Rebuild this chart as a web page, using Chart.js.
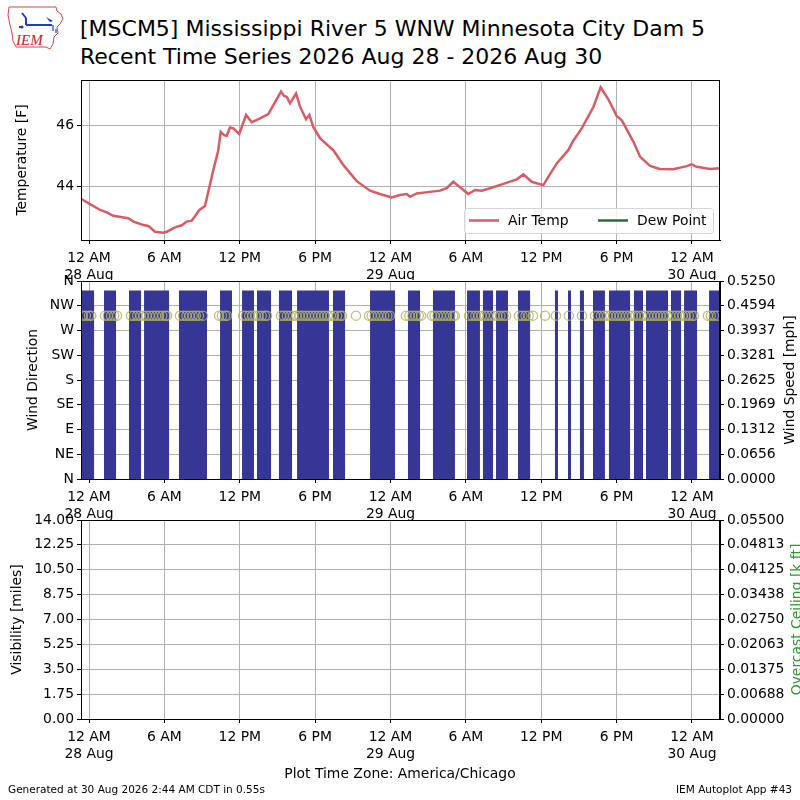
<!DOCTYPE html>
<html><head><meta charset="utf-8">
<script src="https://cdn.jsdelivr.net/npm/chart.js@4.4.1/dist/chart.umd.min.js"></script>
<style>
html,body{margin:0;padding:0;background:#fff;}
body{width:800px;height:800px;position:relative;overflow:hidden;font-family:"DejaVu Sans",sans-serif;color:#000;}
canvas{position:absolute;left:0;}
.t{position:absolute;white-space:nowrap;}
</style></head><body>
<svg style="position:absolute;left:6px;top:3px" width="62" height="48" viewBox="0 0 62 48">
  <path d="M3,4 L50,4 L51,8 L55,11 L57,16 L54,21 L51,24 L52,30 L48,34 L47,41 L44,46 L40,44 L10,44 L7,38 L6,30 L4,22 L2,12 Z" fill="none" stroke="#d44" stroke-width="1"/>
  <path d="M16,10 L20,15 M20,15 L20,22 M13,24 L17,24 M20,22 L46,22" stroke="#1a3fbf" stroke-width="2" fill="none"/>
  <path d="M40,14 L47,18 L44,19 Z" fill="#1a3fbf"/>
  <circle cx="16" cy="24" r="1.5" fill="#1a3fbf"/>
  <path d="M47,22 L47,28 M50,26 L50,30" stroke="#1a3fbf" stroke-width="1.2"/>
  <text x="10" y="42" font-family="Liberation Serif" font-style="italic" font-size="15" fill="#cc2222">IEM</text>
</svg>
<div class="t" style="left:80px;top:15px;font-size:22px;line-height:28px">[MSCM5] Mississippi River 5 WNW Minnesota City Dam 5<br>Recent Time Series 2026 Aug 28 - 2026 Aug 30</div>
<canvas id="c1" width="800" height="212" style="top:68px"></canvas>
<canvas id="c2" width="800" height="251" style="top:269px"></canvas>
<canvas id="c3" width="800" height="262" style="top:508px"></canvas>
<div class="t" style="left:0;width:800px;text-align:center;top:765px;font-size:13.9px">Plot Time Zone: America/Chicago</div>
<div class="t" style="left:8px;top:783px;font-size:10.5px">Generated at 30 Aug 2026 2:44 AM CDT in 0.55s</div>
<div class="t" style="right:8px;top:783px;font-size:10.5px">IEM Autoplot App #43</div>
<script>
// ---------- DATA (hours since 12 AM 28 Aug, America/Chicago) ----------
const timeTicks = [0, 6, 12, 18, 24, 30, 36, 42, 48];
const timeTickLabels = [['12 AM','28 Aug'],'6 AM','12 PM','6 PM',['12 AM','29 Aug'],'6 AM','12 PM','6 PM',['12 AM','30 Aug']];

const tempHours = [-0.58,0.08,0.88,1.41,1.93,3.13,3.53,4.32,4.72,5.25,
  5.91,6.19,6.84,7.38,7.78,8.18,8.78,9.23,9.89,10.29,
  10.48,10.75,10.96,11.22,11.49,11.96,12.50,12.95,13.61,14.27,
  15.28,15.52,15.74,16.0,16.48,16.8,17.27,17.54,17.85,18.39,
  19.05,19.45,20.24,21.31,22.37,23.16,24.10,24.76,25.29,25.55,
  26.09,27.14,27.94,28.47,29.0,30.19,30.73,31.26,31.92,32.98,
  34.05,34.57,35.24,36.16,37.23,38.15,38.55,39.22,40.14,40.73,
  41.34,42.01,42.40,43.33,43.86,44.66,45.45,46.51,47.58,47.98,
  48.37,49.43,50.23];
const airTempF = [43.59,43.43,43.24,43.16,43.05,42.97,42.86,42.75,42.72,42.53,
  42.50,42.53,42.67,42.74,42.86,42.89,43.24,43.37,44.54,45.19,
  45.79,45.68,45.66,45.93,45.90,45.72,46.34,46.10,46.23,46.37,
  47.10,46.96,46.93,46.72,47.04,46.61,46.20,46.34,45.95,45.58,
  45.33,45.19,44.71,44.18,43.87,43.76,43.65,43.73,43.76,43.67,
  43.78,43.83,43.87,43.95,44.16,43.76,43.89,43.87,43.95,44.09,
  44.24,44.40,44.16,44.05,44.76,45.19,45.50,45.90,46.59,47.24,
  46.85,46.30,46.17,45.47,44.98,44.68,44.58,44.57,44.67,44.73,
  44.65,44.58,44.60];
const dewPointF = [];
const tempTicks = [44, 46];

// wind speed: periods with reported speed (start hour, end hour, mph)
const windStart = [-0.56,1.19,3.18,4.38,7.16,10.43,12.18,13.37,15.12,16.56,
  19.42,22.37,25.39,27.38,30.09,31.36,32.40,34.15,37.09,38.13,
  39.08,40.12,41.39,43.38,44.34,46.33,47.37,49.36];
const windEnd = [0.40,2.15,4.14,6.37,9.39,11.38,13.13,14.49,16.16,19.10,
  20.38,24.36,26.35,29.13,31.12,32.16,33.35,35.11,37.33,38.37,
  39.40,41.07,43.07,44.10,46.09,47.13,48.40,50.23];
const windSpeedMph = [0.5,0.5,0.5,0.5,0.5,0.5,0.5,0.5,0.5,0.5,
  0.5,0.5,0.5,0.5,0.5,0.5,0.5,0.5,0.5,0.5,
  0.5,0.5,0.5,0.5,0.5,0.5,0.5,0.5];

// wind direction observations
const dirHours = [-0.50,-0.25,0.00,0.17,
  1.27,1.50,1.75,2.00,2.23,
  3.34,3.58,3.83,4.08,4.33,4.58,4.83,5.08,5.33,5.58,5.83,6.08,6.21,
  7.24,7.50,7.75,8.00,8.25,8.50,8.75,9.07,
  10.35,10.58,10.83,10.99,
  12.26,12.50,12.75,13.00,13.25,13.50,13.75,14.00,14.17,
  15.28,15.50,15.75,16.00,16.25,16.50,16.75,17.00,17.25,17.50,17.75,18.00,18.25,18.50,18.75,19.00,19.25,19.50,19.75,20.00,20.14,
  21.25,
  22.29,22.50,22.75,23.00,23.25,23.50,23.75,23.96,
  25.23,25.50,25.75,26.00,26.25,26.43,
  27.30,27.50,27.75,28.00,28.25,28.50,28.75,29.00,29.13,
  30.25,30.50,30.75,31.00,31.25,31.50,31.75,32.00,32.25,32.50,32.75,33.00,33.20,
  34.23,34.50,34.75,35.00,35.34,
  36.30,37.17,38.20,39.24,
  40.28,40.50,40.75,41.00,41.25,41.50,41.75,42.00,42.25,42.50,42.75,43.00,43.25,43.50,43.75,44.00,44.25,44.50,44.75,45.00,45.25,45.50,45.75,46.00,46.25,46.50,46.75,47.00,47.25,47.50,47.75,48.00,48.16,
  49.27,49.50,49.75,50.00];
const dirDeg = [297,297,297,297,297,297,297,297,297,297,
  297,297,297,297,297,297,297,297,297,297,
  297,297,297,297,297,297,297,297,297,297,
  297,297,297,297,297,297,297,297,297,297,
  297,297,297,297,297,297,297,297,297,297,
  297,297,297,297,297,297,297,297,297,297,
  297,297,297,297,297,297,297,297,297,297,
  297,297,297,297,297,297,297,297,297,297,
  297,297,297,297,297,297,297,297,297,297,
  297,297,297,297,297,297,297,297,297,297,
  297,297,297,297,297,297,297,297,297,297,
  297,297,297,297,297,297,297,297,297,297,
  297,297,297,297,297,297,297,297,297,297,
  297,297,297,297,297,297,297,297,297,297,
  297,297,297,297,297,297,297];
const dirTicks = [0,45,90,135,180,225,270,315,360];
const dirTickLabels = ['N','NE','E','SE','S','SW','W','NW','N'];
const speedTicks = [0,0.065625,0.13125,0.196875,0.2625,0.328125,0.39375,0.459375,0.525];
const speedTickLabels = ['0.0000','0.0656','0.1312','0.1969','0.2625','0.3281','0.3937','0.4594','0.5250'];

const visibilityMiles = [];
const ceilingKft = [];
const visTicks = [0,1.75,3.5,5.25,7,8.75,10.5,12.25,14];
const visTickLabels = ['0.00','1.75','3.50','5.25','7.00','8.75','10.50','12.25','14.00'];
const ceilTicks = [0,0.006875,0.01375,0.020625,0.0275,0.034375,0.04125,0.048125,0.055];
const ceilTickLabels = ['0.00000','0.00688','0.01375','0.02063','0.02750','0.03438','0.04125','0.04813','0.05500'];

// ---------- STYLE / LAYOUT ----------
const X_MIN = -0.64, X_MAX = 50.23;
const FONT = 'DejaVu Sans';
const FS = 13.9;
const GRID = '#b0b0b0';
Chart.defaults.font.family = FONT;
Chart.defaults.font.size = FS;
Chart.defaults.color = '#000';
Chart.defaults.animation = false;

function xScale(h) {
  return {
    type: 'linear', position: 'bottom', min: X_MIN, max: X_MAX,
    afterBuildTicks: ax => { ax.ticks = timeTicks.map(v => ({value: v})); },
    afterFit: ax => { ax.height = h; },
    ticks: {autoSkip: false, maxRotation: 0, padding: 6, color: '#000',
      font: {family: FONT, size: FS, lineHeight: 1.2},
      callback: (v, i) => timeTickLabels[i]},
    grid: {color: GRID, lineWidth: 1, tickLength: 4, tickColor: '#000', drawTicks: true},
    border: {display: true, color: '#000'}
  };
}
function yScale(pos, min, max, tv, tl, grid, w) {
  return {
    type: 'linear', position: pos, min: min, max: max,
    afterBuildTicks: ax => { ax.ticks = tv.map(v => ({value: v})); },
    afterFit: ax => { ax.width = w; },
    ticks: {autoSkip: false, padding: 3, color: '#000', font: {family: FONT, size: FS},
      callback: (v, i) => tl[i]},
    grid: {display: true, drawOnChartArea: grid, color: GRID, lineWidth: 1, tickLength: 4, tickColor: '#000'},
    border: {display: true, color: '#000'}
  };
}
const frame = {id: 'frame', afterDraw(chart) {
  const a = chart.chartArea, c = chart.ctx;
  c.save(); c.strokeStyle = '#000'; c.lineWidth = 1;
  c.strokeRect(Math.round(a.left) + 0.5, Math.round(a.top) + 0.5, Math.round(a.right - a.left) - 1, Math.round(a.bottom - a.top));
  c.restore();
}};
function titles(items) {
  return {id: 'titles', afterDraw(chart) {
    const a = chart.chartArea, c = chart.ctx;
    items.forEach(it => {
      c.save();
      c.translate(it.x, (a.top + a.bottom) / 2 + (it.dy || 0));
      c.rotate(-Math.PI / 2);
      c.font = FS + 'px "' + FONT + '"';
      c.fillStyle = it.color || '#000';
      c.textAlign = 'center'; c.textBaseline = 'middle';
      c.fillText(it.text, 0, 0);
      c.restore();
    });
  }};
}
const tempLegend = {id: 'tempLegend', afterDraw(chart) {
  const a = chart.chartArea, c = chart.ctx;
  const ds = chart.data.datasets;
  const w = 249, h = 25, x = a.right - 7 - w, y = a.bottom - 7 - h;
  c.save();
  c.fillStyle = 'rgba(255,255,255,0.8)';
  c.strokeStyle = '#d6d6d6'; c.lineWidth = 1;
  c.beginPath(); c.roundRect(x + 0.5, y + 0.5, w, h, 3); c.fill(); c.stroke();
  c.font = FS + 'px "' + FONT + '"'; c.textBaseline = 'middle'; c.fillStyle = '#000';
  const offs = [5, 134];
  ds.forEach((d, i) => {
    const lx = x + offs[i];
    c.strokeStyle = d.borderColor; c.lineWidth = 2.5;
    c.beginPath(); c.moveTo(lx, y + h / 2); c.lineTo(lx + 30, y + h / 2); c.stroke();
    c.fillText(d.label, lx + 39, y + h / 2 + 1);
  });
  c.restore();
}};

// ---------- PANEL 1: temperature ----------
new Chart(document.getElementById('c1'), {
  type: 'line',
  data: {datasets: [
    {label: 'Air Temp', data: tempHours.map((h, i) => ({x: h, y: airTempF[i]})),
     borderColor: '#db5b62', borderWidth: 2.5, pointRadius: 0, tension: 0},
    {label: 'Dew Point', data: dewPointF, borderColor: '#2f6b30', borderWidth: 2.5, pointRadius: 0}
  ]},
  options: {
    responsive: false, animation: false,
    layout: {padding: {top: 12, right: 80, left: 0, bottom: 0}},
    plugins: {legend: {display: false}, tooltip: {enabled: false}},
    scales: {
      x: xScale(40),
      y: yScale('left', 42.26, 47.48, tempTicks, tempTicks.map(String), true, 81)
    }
  },
  plugins: [frame, tempLegend, titles([{text: 'Temperature [F]', x: 22}])]
});

// ---------- PANEL 2: wind ----------
const windPath = [];
windStart.forEach((s, i) => {
  windPath.push({x: s, y: 0}, {x: s, y: windSpeedMph[i]}, {x: windEnd[i], y: windSpeedMph[i]}, {x: windEnd[i], y: 0});
});
new Chart(document.getElementById('c2'), {
  type: 'scatter',
  data: {datasets: [
    {type: 'scatter', label: 'Wind Direction', yAxisID: 'y',
     data: dirHours.map((h, i) => ({x: h, y: dirDeg[i]})),
     pointStyle: 'circle', pointRadius: 4.6, borderWidth: 1.3,
     borderColor: 'rgba(178,180,100,0.85)', backgroundColor: 'rgba(0,0,0,0)'},
    {type: 'line', label: 'Wind Speed', yAxisID: 'y1', data: windPath,
     borderWidth: 0, borderColor: 'rgba(0,0,0,0)', backgroundColor: '#363696',
     fill: 'origin', pointRadius: 0, tension: 0}
  ]},
  options: {
    responsive: false, animation: false,
    layout: {padding: {top: 12, right: 0, left: 0, bottom: 0}},
    plugins: {legend: {display: false}, tooltip: {enabled: false}},
    scales: {
      x: xScale(41),
      y: yScale('left', 0, 360, dirTicks, dirTickLabels, true, 81),
      y1: yScale('right', 0, 0.525, speedTicks, speedTickLabels, false, 80)
    }
  },
  plugins: [frame, titles([{text: 'Wind Direction', x: 33}, {text: 'Wind Speed [mph]', x: 790}])]
});

// ---------- PANEL 3: visibility / ceiling ----------
new Chart(document.getElementById('c3'), {
  type: 'line',
  data: {datasets: [
    {label: 'Visibility', yAxisID: 'y', data: visibilityMiles, borderColor: '#000', pointRadius: 0},
    {label: 'Overcast Ceiling', yAxisID: 'y1', data: ceilingKft, borderColor: 'green', pointRadius: 0}
  ]},
  options: {
    responsive: false, animation: false,
    layout: {padding: {top: 12, right: 0, left: 0, bottom: 0}},
    plugins: {legend: {display: false}, tooltip: {enabled: false}},
    scales: {
      x: xScale(51),
      y: yScale('left', 0, 14, visTicks, visTickLabels, true, 81),
      y1: yScale('right', 0, 0.055, ceilTicks, ceilTickLabels, false, 80)
    }
  },
  plugins: [frame, titles([{text: 'Visibility [miles]', x: 17}, {text: 'Overcast Ceiling [k ft]', x: 797, color: '#2a9a2a'}])]
});
</script>
</body></html>
